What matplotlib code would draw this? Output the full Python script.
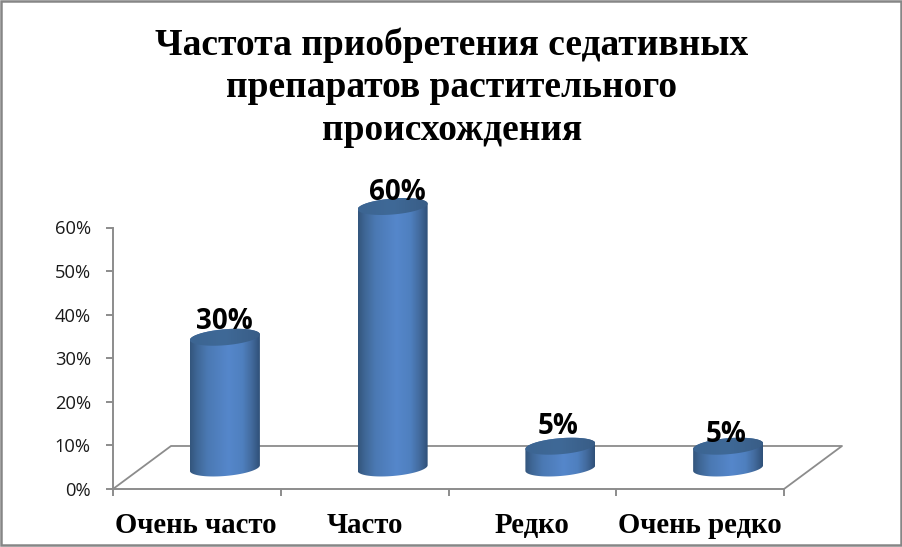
import numpy as np
import matplotlib
matplotlib.use("Agg")
import matplotlib.pyplot as plt
from matplotlib.patches import Polygon, Rectangle
from matplotlib.colors import LinearSegmentedColormap

categories = ["Очень часто", "Часто", "Редко", "Очень редко"]
values = [30, 60, 5, 5]
tick_values = [0, 10, 20, 30, 40, 50, 60]
tick_labels = ["0%", "10%", "20%", "30%", "40%", "50%", "60%"]
title_lines = ["Частота приобретения седативных", "препаратов растительного", "происхождения"]

W, H = 902, 547
fig = plt.figure(figsize=(W / 100, H / 100), dpi=100, facecolor="white")
# axis box: x 113..784 px, y 489..227.5 px
ax = fig.add_axes([113 / W, 1 - 489 / H, (784 - 113) / W, (489 - 227.5) / H])
ax.set_xlim(0, 4)
ax.set_ylim(0, 60)
ax.patch.set_visible(False)
for s in ("top", "right"):
    ax.spines[s].set_visible(False)
GREY = "#8c8c8c"
for s in ("left", "bottom"):
    ax.spines[s].set_color(GREY)
    ax.spines[s].set_linewidth(1.4)
ax.set_yticks(tick_values)
ax.set_yticklabels(tick_labels, family="Open Sans", fontsize=13.2, color="#1a1a1a")
ax.set_xticks(range(5))
ax.set_xticklabels([])
ax.tick_params(axis="both", color=GREY, length=5, width=1.4)
ax.tick_params(axis="y", pad=11)

# floor (depth offset in data units)
dx, dy = 58 / 167.75, 43 / 4.358
ax.plot([0, dx, 4 + dx, 4], [0, dy, dy, 0], color=GREY, lw=1.3, clip_on=False, zorder=1)

# cylinders
cmap_body = LinearSegmentedColormap.from_list("b", [
    (0.0, "#33557c"), (0.10, "#3f6796"), (0.25, "#4b79b3"), (0.55, "#5587cb"),
    (0.75, "#4f80bf"), (0.88, "#436b9e"), (1.0, "#2f5078")])
cmap_top = LinearSegmentedColormap.from_list("t", ["#3c6592", "#3f6997", "#395d86"])
grad = np.linspace(0, 1, 256).reshape(1, -1)
hw = 35 / 167.75       # half width, categories
hh = 8 / 4.358         # half ellipse height, percent
shear = 0.08 * 167.75 / 4.358  # percent per category
base = 21 / 4.358
t = np.linspace(0, 2 * np.pi, 121)
label_offsets = [(-1, 16), (5, 14), (-2, 20), (-2, 12)]  # pixels from cap centre


def ring(xc, yc, a):
    return xc + hw * np.cos(a), yc + hh * np.sin(a) + shear * hw * np.cos(a)


for i, v in enumerate(values):
    xc = i + 0.667
    top = base + v
    bx, by = ring(xc, base, np.linspace(np.pi, 2 * np.pi, 61))
    tx, ty = ring(xc, top, np.linspace(0, np.pi, 61))
    body = Polygon(np.column_stack([np.r_[bx, tx], np.r_[by, ty]]), transform=ax.transData,
                   fc="none", ec="none", clip_on=False)
    ax.add_patch(body)
    im = ax.imshow(grad, cmap=cmap_body, extent=(xc - hw, xc + hw, base - 3 * hh, top + 3 * hh),
                   aspect="auto", zorder=2, interpolation="bilinear")
    im.set_clip_box(fig.bbox)
    im.set_clip_path(body)
    ex, ey = ring(xc, top, t)
    cap = Polygon(np.column_stack([ex, ey]), transform=ax.transData, fc="none", ec="none", clip_on=False)
    ax.add_patch(cap)
    im2 = ax.imshow(grad, cmap=cmap_top, extent=(xc - hw, xc + hw, top - 3 * hh, top + 3 * hh),
                    aspect="auto", zorder=3, interpolation="bilinear")
    im2.set_clip_box(fig.bbox)
    im2.set_clip_path(cap)
    ox, oy = label_offsets[i]
    ax.annotate(f"{v}%", (xc, top), xytext=(ox * 0.72, oy * 0.72), textcoords="offset points",
                ha="center", va="center", family="Open Sans", fontweight="bold", fontsize=20,
                color="black", zorder=4, annotation_clip=False)
ax.set_xlim(0, 4)
ax.set_ylim(0, 60)

# category labels
label_x = [0.495, 1.5, 2.5, 3.497]
for x, c in zip(label_x, categories):
    ax.text(x, -8.4, c, ha="center", va="center", family="Liberation Serif", fontweight="bold",
            fontsize=20.7, color="black", clip_on=False)

fig.text(452 / W, 1 - 87.5 / H, "\n".join(title_lines), ha="center", va="center", family="Liberation Serif",
         fontweight="bold", fontsize=27, linespacing=1.27, color="black")

fig.add_artist(Rectangle((1 / W, 1 - 545 / H), 899.5 / W, 544 / H, transform=fig.transFigure,
                         fc="none", ec="#868686", lw=1.8))
fig.savefig("out.png", dpi=100)
